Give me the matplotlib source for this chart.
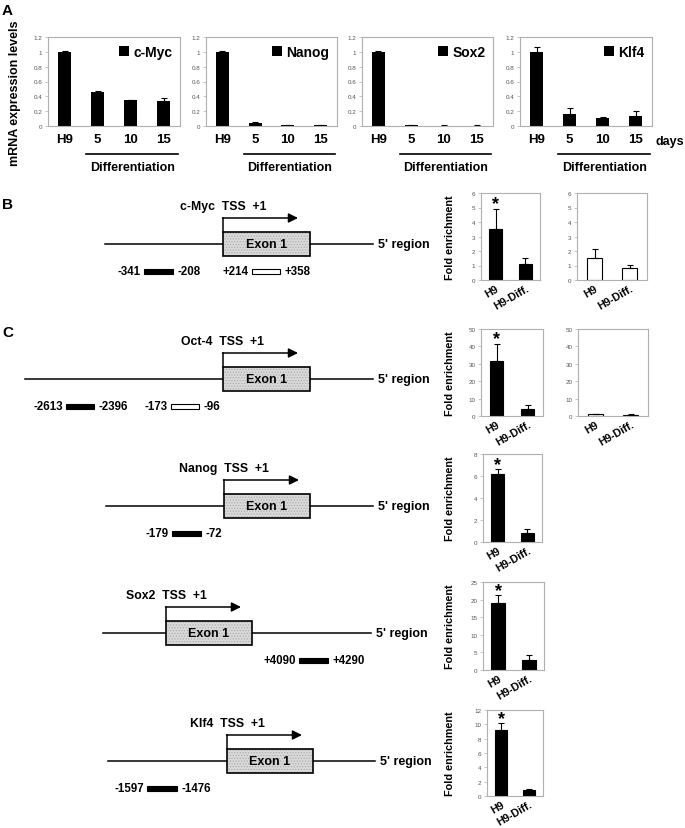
import matplotlib
matplotlib.use("Agg")
import matplotlib.pyplot as plt
from matplotlib.patches import Rectangle, Patch
import matplotlib.transforms as mtransforms

plt.rcParams['font.family'] = ['Liberation Sans', 'DejaVu Sans']
plt.rcParams['hatch.linewidth'] = 0.5

# ---- panel A: mRNA levels ----
days = ['H9', '5', '10', '15']
mrna_genes = ['c-Myc', 'Nanog', 'Sox2', 'Klf4']
cmyc_mrna = [1.0, 0.46, 0.345, 0.335]
cmyc_mrna_err = [0.015, 0.01, 0.01, 0.04]
nanog_mrna = [1.0, 0.04, 0.01, 0.01]
nanog_mrna_err = [0.01, 0.02, 0.005, 0.01]
sox2_mrna = [1.0, 0.01, 0.005, 0.005]
sox2_mrna_err = [0.01, 0.005, 0.003, 0.003]
klf4_mrna = [1.0, 0.16, 0.11, 0.135]
klf4_mrna_err = [0.07, 0.08, 0.01, 0.065]

# ---- panels B/C: ChIP fold enrichment ----
chip_groups = ['H9', 'H9-Diff.']
cmyc_chip_black = [3.55, 1.1]
cmyc_chip_black_err = [1.35, 0.45]
cmyc_chip_white = [1.5, 0.82]
cmyc_chip_white_err = [0.65, 0.2]
oct4_chip_black = [31.5, 4.0]
oct4_chip_black_err = [10.0, 2.5]
oct4_chip_white = [1.0, 0.6]
oct4_chip_white_err = [0.4, 0.3]
nanog_chip = [6.15, 0.85]
nanog_chip_err = [0.45, 0.3]
sox2_chip = [19.0, 2.7]
sox2_chip_err = [2.2, 1.5]
klf4_chip = [9.2, 0.85]
klf4_chip_err = [0.95, 0.15]

W, H = 685, 829
fig = plt.figure(figsize=(W / 100, H / 100), dpi=100)
ov = fig.add_axes([0, 0, 1, 1])
ov.set_xlim(0, W)
ov.set_ylim(H, 0)
ov.axis('off')


def px_axes(l, t, r, b):
    return fig.add_axes([l / W, 1 - b / H, (r - l) / W, (b - t) / H])


def style_frame(ax):
    for s in ax.spines.values():
        s.set_color('#b0b0b0')
        s.set_linewidth(0.8)
    ax.tick_params(axis='y', length=2, width=0.5, color='#b0b0b0',
                   labelsize=4.5, labelcolor='#555555', pad=2)
    ax.tick_params(axis='x', length=0)


# panel A
mrna_vals = [cmyc_mrna, nanog_mrna, sox2_mrna, klf4_mrna]
mrna_errs = [cmyc_mrna_err, nanog_mrna_err, sox2_mrna_err, klf4_mrna_err]
a_boxes = [(48, 38, 180, 127), (206, 38, 337, 127), (362, 38, 493, 127), (520, 38, 652, 127)]
for i, box in enumerate(a_boxes):
    ax = px_axes(*box)
    n = len(days)
    ax.bar(range(n), mrna_vals[i], width=0.4, color='black',
           yerr=[[0] * n, mrna_errs[i]], capsize=2,
           error_kw=dict(elinewidth=0.8, capthick=0.8, ecolor='black'))
    ax.set_xlim(-0.5, n - 0.5)
    ax.set_ylim(0, 1.2)
    ax.set_yticks([0, 0.2, 0.4, 0.6, 0.8, 1, 1.2])
    ax.set_yticklabels(['0', '0.2', '0.4', '0.6', '0.8', '1', '1.2'])
    ax.set_xticks(range(n))
    ax.set_xticklabels(days, fontsize=9.5, fontweight='bold')
    style_frame(ax)
    ax.tick_params(axis='x', pad=5)
    ax.legend(handles=[Patch(facecolor='black')], labels=[mrna_genes[i]],
              loc='upper right', frameon=False, handlelength=0.7, handleheight=0.7,
              handletextpad=0.3, borderaxespad=0.15,
              prop=dict(weight='bold', size=10))
    tr = mtransforms.blended_transform_factory(ax.transData, ax.transAxes)
    ax.plot([0.65, 3.45], [-0.315, -0.315], color='black', lw=1.2,
            transform=tr, clip_on=False)
    ax.text(2.05, -0.46, 'Differentiation', transform=tr, ha='center', va='center',
            fontsize=9, fontweight='bold')

ov.text(656, 142, 'days', ha='left', va='center', fontsize=9, fontweight='bold')
ov.text(15, 93, 'mRNA expression levels', rotation=90, ha='center', va='center',
        fontsize=9, fontweight='bold')
ov.text(2, 11, 'A', ha='left', va='center', fontsize=11, fontweight='bold')
ov.text(2, 205, 'B', ha='left', va='center', fontsize=11, fontweight='bold')
ov.text(2, 333, 'C', ha='left', va='center', fontsize=11, fontweight='bold')


def gene(name, y, line_x, exon_x, amps):
    ov.plot(line_x, [y, y], color='black', lw=1.1)
    w = exon_x[1] - exon_x[0]
    ov.add_patch(Rectangle((exon_x[0], y - 12), w, 24, facecolor='#d9d9d9',
                           edgecolor='#a8a8a8', lw=0, hatch='......', zorder=2))
    ov.add_patch(Rectangle((exon_x[0], y - 12), w, 24, facecolor='none',
                           edgecolor='black', lw=1.2, zorder=3))
    ov.text(exon_x[0] + w / 2, y, 'Exon 1', ha='center', va='center',
            fontsize=9, fontweight='bold', zorder=4)
    ov.plot([exon_x[0], exon_x[0]], [y - 12, y - 26], color='black', lw=1.1)
    ov.annotate('', xy=(exon_x[0] + 75, y - 26), xytext=(exon_x[0] - 0.5, y - 26),
                arrowprops=dict(arrowstyle='-|>', lw=1.1, color='black',
                                mutation_scale=14, shrinkA=0, shrinkB=0))
    ov.text(exon_x[0], y - 38, name + '  TSS  +1', ha='center', va='center',
            fontsize=8.8, fontweight='bold')
    ov.text(line_x[1] + 5, y, "5' region", ha='left', va='center',
            fontsize=9, fontweight='bold')
    for left_lab, x0, x1, right_lab, fill in amps:
        ay = y + 27
        ov.add_patch(Rectangle((x0, ay - 2.5), x1 - x0, 5, facecolor=fill,
                               edgecolor='black', lw=0.8))
        ov.text(x0 - 3, ay, left_lab, ha='right', va='center', fontsize=8.3, fontweight='bold')
        ov.text(x1 + 5, ay, right_lab, ha='left', va='center', fontsize=8.3, fontweight='bold')


gene('c-Myc', 245, [105, 373], [223, 310],
     [('-341', 144, 173, '-208', 'black'), ('+214', 252, 280, '+358', 'white')])
gene('Oct-4', 380, [25, 373], [223, 310],
     [('-2613', 66, 94, '-2396', 'black'), ('-173', 171, 199, '-96', 'white')])
gene('Nanog', 507, [106, 373], [224, 310],
     [('-179', 172, 201, '-72', 'black')])
gene('Sox2', 634, [103, 371], [166, 252],
     [('+4090', 299, 328, '+4290', 'black')])
gene('Klf4', 762, [108, 375], [227, 313],
     [('-1597', 147, 177, '-1476', 'black')])


def chip_chart(box, vals, errs, ymax, step, fill, star, ylabel):
    ax = px_axes(*box)
    ax.bar([0, 1], vals, width=0.45, color=fill, edgecolor='black', lw=0.8,
           yerr=[[0, 0], errs], capsize=2,
           error_kw=dict(elinewidth=0.8, capthick=0.8, ecolor='black'))
    ax.set_xlim(-0.5, 1.5)
    ax.set_ylim(0, ymax)
    ticks = list(range(0, ymax + 1, step))
    ax.set_yticks(ticks)
    ax.set_xticks([0, 1])
    ax.set_xticklabels(chip_groups, rotation=30, ha='right', rotation_mode='anchor',
                       fontsize=7.8, fontweight='bold')
    style_frame(ax)
    ax.tick_params(axis='x', pad=2)
    if star:
        ax.text(0, vals[0] + errs[0] - ymax * 0.04, '*', ha='center', va='bottom',
                fontsize=13, fontweight='bold')
    if ylabel:
        ax.set_ylabel('Fold enrichment', fontsize=7.8, fontweight='bold')
        ax.yaxis.set_label_coords(-(box[0] - 455) / (box[2] - box[0]), 0.5)
    return ax


chip_chart((481, 194, 540, 281), cmyc_chip_black, cmyc_chip_black_err, 6, 1, 'black', True, True)
chip_chart((577, 194, 647, 281), cmyc_chip_white, cmyc_chip_white_err, 6, 1, 'white', False, False)
chip_chart((481, 330, 543, 417), oct4_chip_black, oct4_chip_black_err, 50, 10, 'black', True, True)
chip_chart((578, 330, 648, 417), oct4_chip_white, oct4_chip_white_err, 50, 10, 'white', False, False)
chip_chart((483, 455, 542, 543), nanog_chip, nanog_chip_err, 8, 2, 'black', True, True)
chip_chart((483, 583, 544, 671), sox2_chip, sox2_chip_err, 25, 5, 'black', True, True)
chip_chart((487, 711, 543, 797), klf4_chip, klf4_chip_err, 12, 2, 'black', True, True)

fig.savefig('out.png', dpi=100)
